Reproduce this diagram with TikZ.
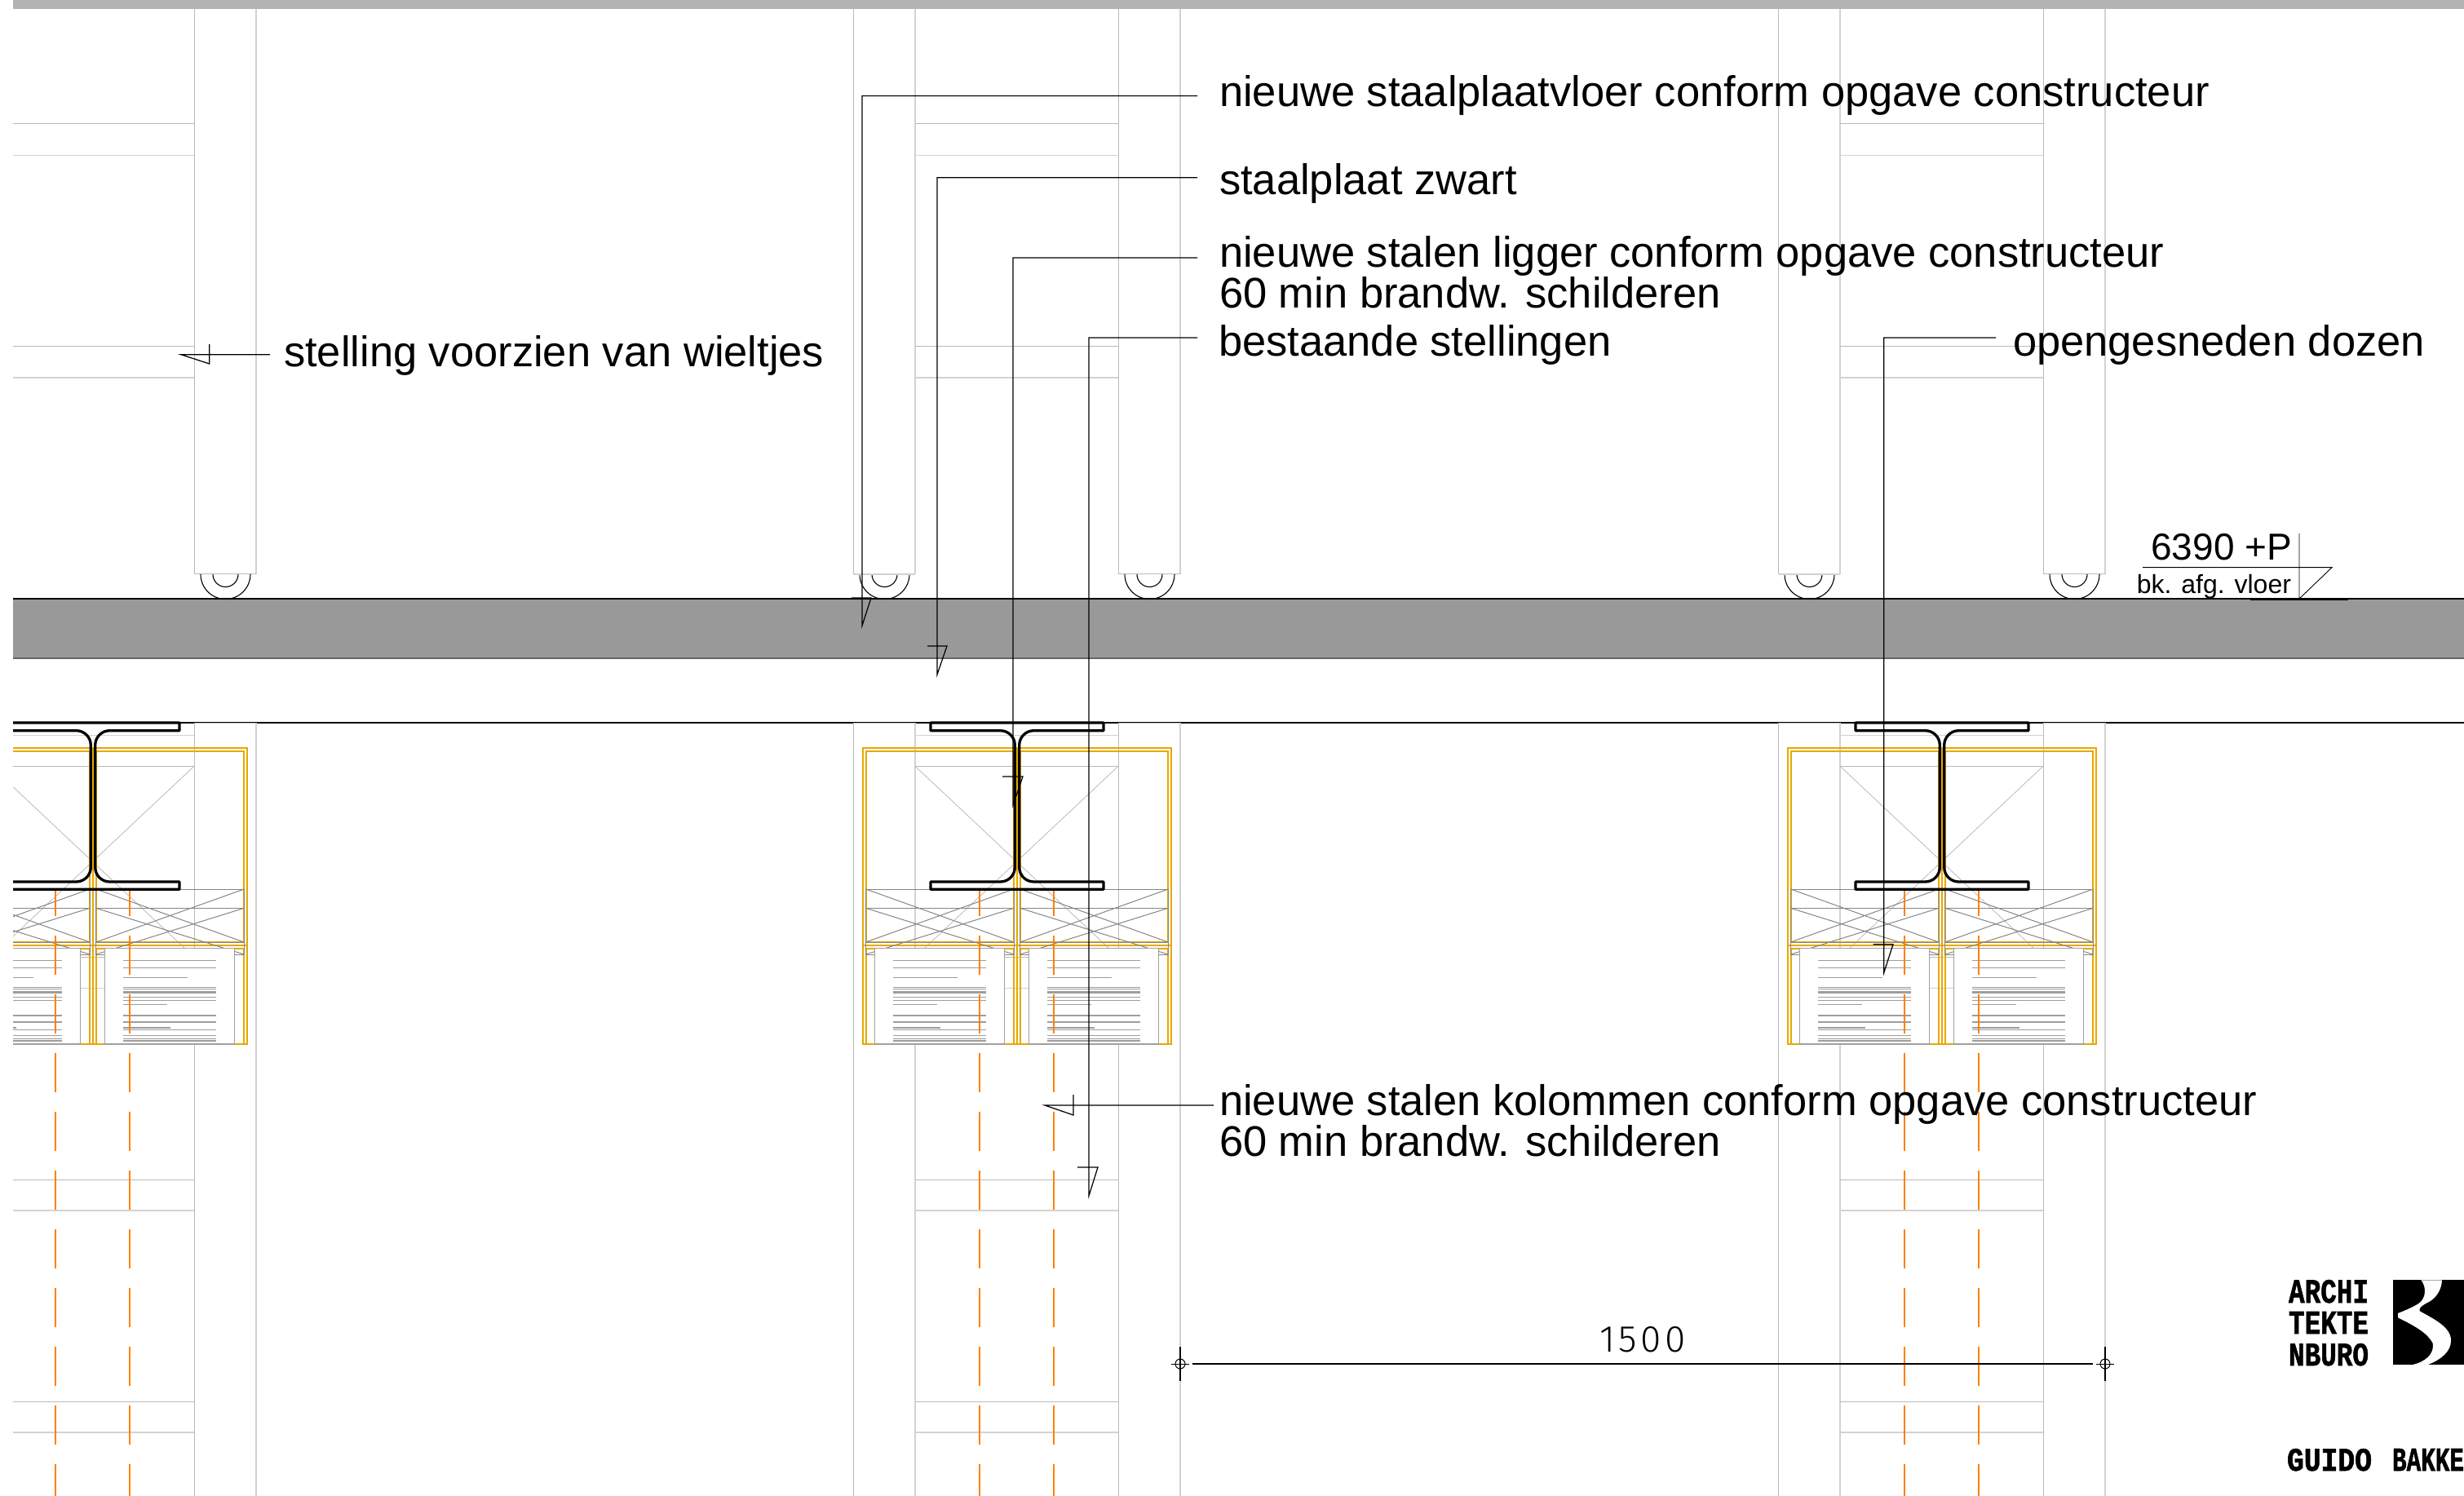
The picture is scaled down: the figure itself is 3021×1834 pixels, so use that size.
\documentclass[tikz,border=0pt]{standalone}
\usepackage{fontspec}
\usepackage{graphicx}
\setmainfont{Liberation Sans}
\newfontfamily\dimfont[LetterSpace=10]{Fira Sans Light}
\newfontfamily\logofont[FakeBold=1.6]{Liberation Mono Bold}
\definecolor{boxor}{HTML}{E6A800}
\definecolor{dashor}{HTML}{FF8000}
\definecolor{gA}{HTML}{BABABA}
\definecolor{gB}{HTML}{D2D2D2}
\definecolor{gX}{HTML}{858585}
\definecolor{gP}{HTML}{A0A0A0}
\definecolor{floorg}{HTML}{999999}
\definecolor{barg}{HTML}{B3B3B3}
\tikzset{
  x=0.5pt,y=-0.5pt,
  rackA/.style={draw=gA,line width=0.5pt},
  rackB/.style={draw=gB,line width=0.75pt},
  thinx/.style={draw=gA,line width=0.4pt},
  orbox/.style={draw=boxor,line width=1pt},
  xbox/.style={draw=gX,line width=0.5pt},
  paper/.style={draw=gP,line width=0.6pt,fill=white},
  ptext/.style={draw=gX!80!white,line width=0.6pt},
  column/.style={draw=dashor,line width=0.85pt,dash pattern=on 24pt off 12pt,dash phase=7.65pt},
  beam/.style={draw=black,line width=1.65pt,line join=round},
  leader/.style={draw=black,line width=0.62pt},
  wheel/.style={draw=black,line width=0.55pt},
  lab/.style={anchor=base west,inner sep=0pt,outer sep=0pt,font=\fontsize{26.25}{25}\selectfont,align=left},
  lvl/.style={anchor=base east,inner sep=0pt,outer sep=0pt},
  logo/.style={anchor=north west,inner sep=0pt,outer sep=0pt},
}
\newcommand{\papersheet}{%
  \path[paper] (1072.7,1162.7) rectangle (1231.7,1280);
  \foreach \yy in {1177.3,1186.3,1210.7,1212.2,1216,1217.5,1222.3,1226.7,1245,1253,1262.7,1269.3,1273.3,1276}
    \draw[ptext] (1095,\yy) -- (1209,\yy);
  \draw[ptext] (1095,1198.3) -- (1174,1198.3);
  \draw[ptext] (1095,1231.7) -- (1149.3,1231.7);
  \draw[ptext] (1095,1260) -- (1152.7,1260);
}
\newcommand{\xcell}{%
  \draw[xbox] (1061.5,1090) rectangle (1243,1155);
  \draw[xbox] (1061.5,1090) -- (1243,1155) (1061.5,1155) -- (1243,1090);
  \draw[xbox] (1061.5,1113.3) rectangle (1243,1170);
  \draw[xbox] (1061.5,1113.3) -- (1243,1170) (1061.5,1170) -- (1243,1113.3);
}
\newcommand{\rackcolumns}[2]{%
  \draw[rackA] (1046.5,#1) -- (1046.5,#2);
  \draw[rackB] (1122,#1) -- (1122,#2);
  \draw[rackA] (1371,#1) -- (1371,#2);
  \draw[rackB] (1447,#1) -- (1447,#2);
}
\newcommand{\shelf}[2]{%
  \draw[rackA] (1122,#1) -- (1371,#1);
  \draw[rackB] (1122,#2) -- (1371,#2);
}
\begin{document}
\begin{tikzpicture}
\useasboundingbox (0,0) rectangle (3021,1834);
\begin{scope}
\clip (16,0) rectangle (3021,1834);
% floor and top bar
\fill[barg] (0,0) rectangle (3021,11);
\fill[floorg] (0,734) rectangle (3021,807);
\draw[black,line width=0.55pt] (0,734) -- (3021,734);
\draw[black!60,line width=0.55pt] (0,807) -- (3021,807);
\draw[black,line width=1.1pt] (0,886) -- (3021,886);
\foreach \d in {-1133,0,1134}{
\begin{scope}[shift={(\d,0)}]
  % upper racks
  \draw[wheel] (1054,704) arc[start angle=180,end angle=0,radius=30.5];
  \draw[wheel] (1069,704) arc[start angle=180,end angle=0,radius=15.5];
  \draw[wheel] (1379,704) arc[start angle=180,end angle=0,radius=30.5];
  \draw[wheel] (1394,704) arc[start angle=180,end angle=0,radius=15.5];
  \rackcolumns{11}{704}
  \draw[rackB] (1046.5,704) -- (1122,704);
  \draw[rackA] (1371,704) -- (1447,704);
  \shelf{152}{190.7}
  \shelf{425}{463}
  % lower racks
  \rackcolumns{886}{1834}
  \draw[rackA] (1046.5,886) -- (1122,886) (1371,886) -- (1447,886);
  \shelf{939.3}{901.3}
  \shelf{1173.3}{1211.3}
  \shelf{1446}{1484}
  \shelf{1718}{1756}
  \draw[thinx] (1122,939.3) -- (1371,1173.3) (1371,939.3) -- (1122,1173.3);
  % orange boxes
  \draw[orbox] (1057.5,916.7) rectangle (1436,1280);
  \draw[orbox] (1061.5,920.7) rectangle (1243,1155);
  \draw[orbox] (1250.7,920.7) rectangle (1432,1155);
  \draw[orbox] (1247,916.7) -- (1247,1280);
  \draw[orbox] (1057.5,1159) -- (1436,1159);
  \draw[orbox] (1061.5,1163) rectangle (1243,1280);
  \draw[orbox] (1250.7,1163) rectangle (1432,1280);
  % crossed boxes and sheets
  \xcell
  \begin{scope}[shift={(189.2,0)}]\xcell\end{scope}
  \papersheet
  \begin{scope}[shift={(189,0)}]\papersheet\end{scope}
  % column centre lines
  \draw[column] (1201,1090) -- (1201,1834);
  \draw[column] (1292,1090) -- (1292,1834);
  % steel beam
  \draw[beam] (1141,886) -- (1353,886) -- (1353,895.7) -- (1267.5,895.7)
     arc[start angle=270,end angle=180,radius=17.8] -- (1249.7,1063.3)
     arc[start angle=180,end angle=90,radius=17.7] -- (1353,1081) -- (1353,1090.3) -- (1141,1090.3) -- (1141,1081) -- (1226.5,1081)
     arc[start angle=90,end angle=0,radius=17.8] -- (1244.3,913.5)
     arc[start angle=0,end angle=-90,radius=17.8] -- (1141,895.7) -- cycle;
\end{scope}
}
\end{scope}
% labels
\node[lab] (tfloor) at (1495,131) {nieuwe staalplaatvloer conform opgave constructeur};
\node[lab] (tplate) at (1495,239) {staalplaat zwart};
\node[lab] (tbeam) at (1495,377.5) {nieuwe stalen ligger conform opgave constructeur\\60 min brandw. schilderen};
\node[lab] (track) at (1494,437) {bestaande stellingen};
\node[lab] (tbox) at (2468,437) {opengesneden dozen};
\node[lab] (twheel) at (348,450) {stelling voorzien van wieltjes};
\node[lab] (tcol) at (1495,1417.5) {nieuwe stalen kolommen conform opgave constructeur\\60 min brandw. schilderen};
% leader anchors
\coordinate (sfloor) at (1468,117.5);
\coordinate (tipfloor) at (1057,767);
\coordinate (splate) at (1468,217.7);
\coordinate (tipplate) at (1149,827);
\coordinate (sbeam) at (1468,316);
\coordinate (tipbeam) at (1242,987);
\coordinate (strack) at (1468,414);
\coordinate (tiptrack) at (1335,1466);
\coordinate (sbox) at (2447,414);
\coordinate (tipbox) at (2309.7,1192.7);
\coordinate (swheel) at (331,434.7);
\coordinate (tipwheel) at (222,434.7);
\coordinate (scol) at (1488,1355);
\coordinate (tipcol) at (1281,1355);
\draw[leader] (sfloor) -| (tipfloor) -- (1068,733) -- (1044,733);
\draw[leader] (splate) -| (tipplate) -- (1161,792) -- (1137,792);
\draw[leader] (sbeam) -| (tipbeam) -- (1254,952) -- (1229,952);
\draw[leader] (strack) -| (tiptrack) -- (1346,1431) -- (1321,1431);
\draw[leader] (sbox) -| (tipbox) -- (2321,1157.7) -- (2296.7,1157.7);
\draw[leader] (swheel) -- (tipwheel) -- (256.7,446) -- (256.7,422);
\draw[leader] (scol) -- (tipcol) -- (1316,1367) -- (1316,1342);
% level mark
\node[lvl,font=\fontsize{23}{23}\selectfont] (lvlnum) at (2810,686.5) {6390 +P};
\node[lvl,font=\fontsize{16}{16}\selectfont] (lvltxt) at (2809,727.5) {bk. afg. vloer};
\coordinate (lva) at (2627,695.7);
\coordinate (lvb) at (2859,695.7);
\coordinate (lvc) at (2819,734);
\coordinate (lvd) at (2819,654);
\draw[leader,line width=0.45pt] (lva) -- (lvb) -- (lvc) -- (lvd);
\draw[black,line width=0.6pt] (2759,735) -- (2879,735);
% dimension
\coordinate (da) at (1447,1672);
\coordinate (db) at (2581,1672);
\draw[leader,line width=0.55pt] (1462,1672) -- (2566,1672);
\foreach \p in {da,db}{
  \draw[leader,line width=0.5pt] (\p) circle[radius=6];
  \draw[leader,line width=0.5pt] ([xshift=-5.5pt]\p) -- ([xshift=5.5pt]\p);
  \draw[leader,line width=0.65pt] ([yshift=-10.5pt]\p) -- ([yshift=10.5pt]\p);
}
\node[anchor=base,inner sep=0pt,font=\dimfont\fontsize{23}{23}\selectfont,text=black] (dimtxt) at (2014,1657) {1500};
% logo
\node[logo] (la) at (2806,1569) {\resizebox{49pt}{14pt}{\logofont ARCHI}};
\node[logo] (lb) at (2806,1608) {\resizebox{49pt}{13.5pt}{\logofont TEKTE}};
\node[logo] (lc) at (2806,1647) {\resizebox{49pt}{13.5pt}{\logofont NBURO}};
\fill[black] (2934,1569) rectangle (3021,1673.3);
\fill[white] (2968.3,1569.3) .. controls (2975,1577) and (2975,1592) .. (2965,1598.3)
  .. controls (2956.7,1603.3) and (2948.3,1606.7) .. (2940,1610) -- (2940,1615.3)
  .. controls (2963.3,1626.7) and (2976.7,1635) .. (2982.7,1646.7)
  .. controls (2985,1660) and (2973.3,1670) .. (2956.7,1673.3) -- (2976,1673.3)
  .. controls (2993.3,1666.7) and (3005,1656.7) .. (3005,1643.3)
  .. controls (3005,1626.7) and (2983.3,1616.7) .. (2966.7,1607.3)
  .. controls (2965,1603.3) and (2970,1600) .. (2976.7,1596.7)
  .. controls (2986.7,1591.7) and (2993.3,1581.7) .. (2994,1569.3) -- cycle;
\node[logo] (ld) at (2804,1776) {\resizebox{52pt}{13.5pt}{\logofont GUIDO}};
\node[logo] (le) at (2933,1776) {\resizebox{44pt}{13.5pt}{\logofont BAKKE}};
\end{tikzpicture}
\end{document}
